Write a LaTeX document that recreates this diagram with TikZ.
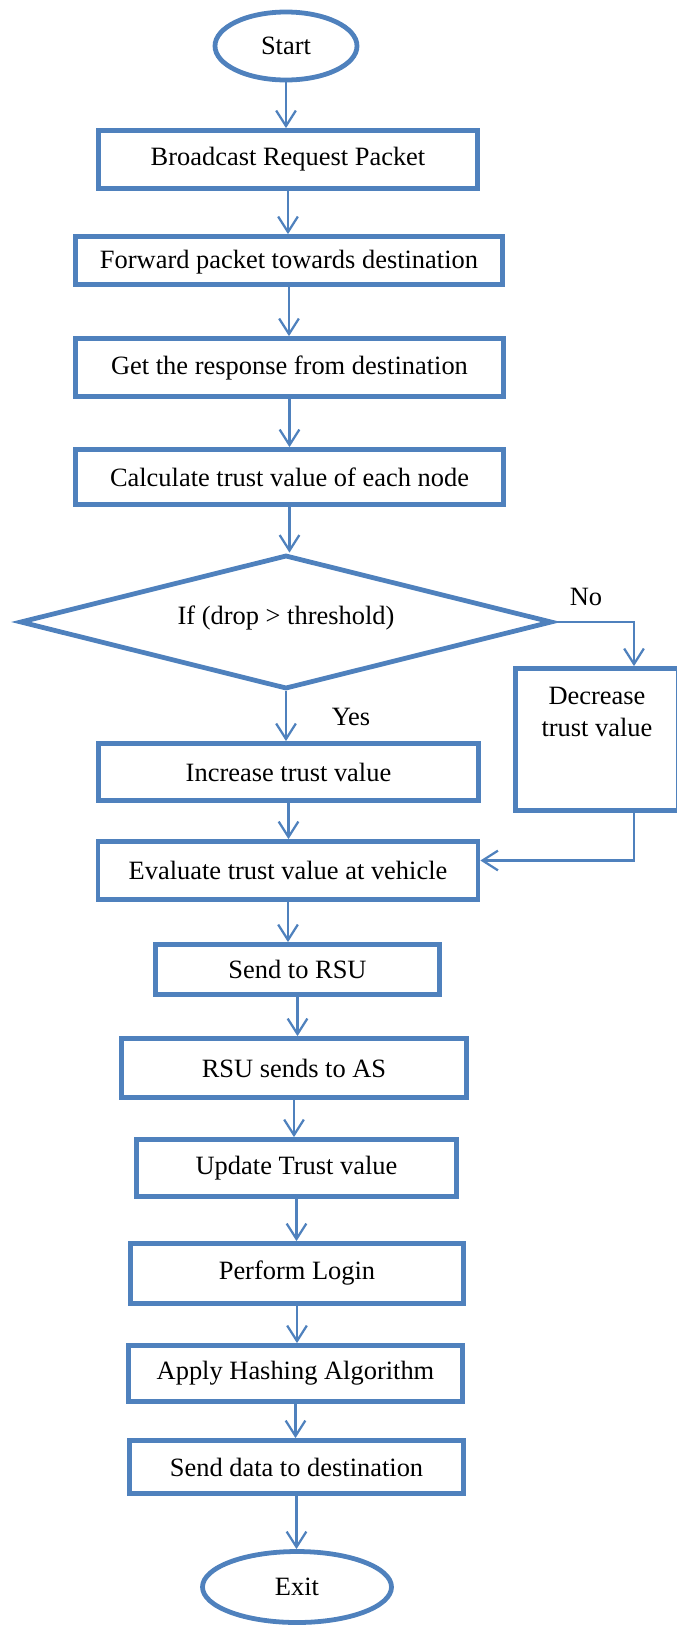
\documentclass[tikz,border=0pt]{standalone}
\usepackage{fontspec}
\setmainfont{Liberation Serif}
\usepackage{xcolor}
\usepackage{tikz}
\usetikzlibrary{shapes.geometric,arrows.meta,positioning,calc}

\definecolor{flowblue}{HTML}{4F81BD}
\newcommand{\pxu}{0.025cm}

\begin{document}
\begin{tikzpicture}[x=0.025cm,y=-0.025cm,
  every node/.style={font=\fontsize{18.8}{22.7}\selectfont},
  box/.style={draw=flowblue,line width=3.4pt,rectangle,inner sep=0pt},
  term/.style={draw=flowblue,line width=3.4pt,ellipse,inner sep=0pt},
  decide/.style={draw=flowblue,line width=3.4pt,diamond,aspect=4,inner sep=0pt},
  arr/.style={draw=flowblue,line width=1.6pt,-{Straight Barb[length=11pt,width=14pt]}}]
  \useasboundingbox (0,0) rectangle (677,1625);
  \clip (0,0) rectangle (677,1625);
  % main column
  \node[term,minimum width=142*\pxu,minimum height=68*\pxu] (start) at (286,46) {Start};
  \node[box,minimum width=379*\pxu,minimum height=58*\pxu] (bcast) at (288,159.5) {Broadcast Request Packet};
  \node[box,minimum width=427*\pxu,minimum height=48*\pxu,text height=1.4em,text depth=0.22em] (fwd) at (289,260.5) {Forward packet towards destination};
  \node[box,minimum width=428*\pxu,minimum height=58*\pxu] (resp) at (289.5,367.5) {Get the response from destination};
  \node[box,minimum width=428*\pxu,minimum height=55*\pxu] (calc) at (289.5,477) {Calculate trust value of each node};
  \node[decide,minimum width=532*\pxu,minimum height=134*\pxu,text depth=1em] (cond) at (286,622) {If (drop > threshold)};
  \node[box,minimum width=380*\pxu,minimum height=57*\pxu] (inc) at (288.5,772) {Increase trust value};
  \node[box,minimum width=380*\pxu,minimum height=58*\pxu] (eval) at (288,870.5) {Evaluate trust value at vehicle};
  \node[box,minimum width=284*\pxu,minimum height=50*\pxu] (rsu) at (297.5,969.5) {Send to RSU};
  \node[box,minimum width=345*\pxu,minimum height=59*\pxu] (toas) at (294,1068) {RSU sends to AS};
  \node[box,minimum width=320*\pxu,minimum height=57*\pxu] (upd) at (296.5,1168) {Update Trust value};
  \node[box,minimum width=333*\pxu,minimum height=60*\pxu] (login) at (297,1273.5) {Perform Login};
  \node[box,minimum width=334*\pxu,minimum height=56*\pxu] (hash) at (295.5,1373.5) {Apply Hashing Algorithm};
  \node[box,minimum width=334*\pxu,minimum height=53*\pxu] (sendd) at (296.5,1467) {Send data to destination};
  \node[term,minimum width=189*\pxu,minimum height=71*\pxu] (exit) at (297,1587) {Exit};
  % side branch
  \node[box,minimum width=163*\pxu,minimum height=142*\pxu] (dec) at (597,739.5) {};
  \node[align=center] (dectxt) at (597,712) {Decrease\\trust value};
  \node (nolbl) at (586,597) {No};
  \node (yeslbl) at (351,717) {Yes};
  \coordinate (lane) at (634,622);

  \foreach \a/\b in {start/bcast,bcast/fwd,fwd/resp,resp/calc,calc/cond,cond/inc,inc/eval,eval/rsu,
                     rsu/toas,toas/upd,upd/login,login/hash,hash/sendd,sendd/exit}
    \draw[arr] (\a) -- (\a |- \b.north);
  \draw[arr] (cond.east) -| (lane |- dec.north);
  \draw[arr] (lane |- dec.south) |- ([yshift=0.25cm]eval.east);
\end{tikzpicture}
\end{document}
